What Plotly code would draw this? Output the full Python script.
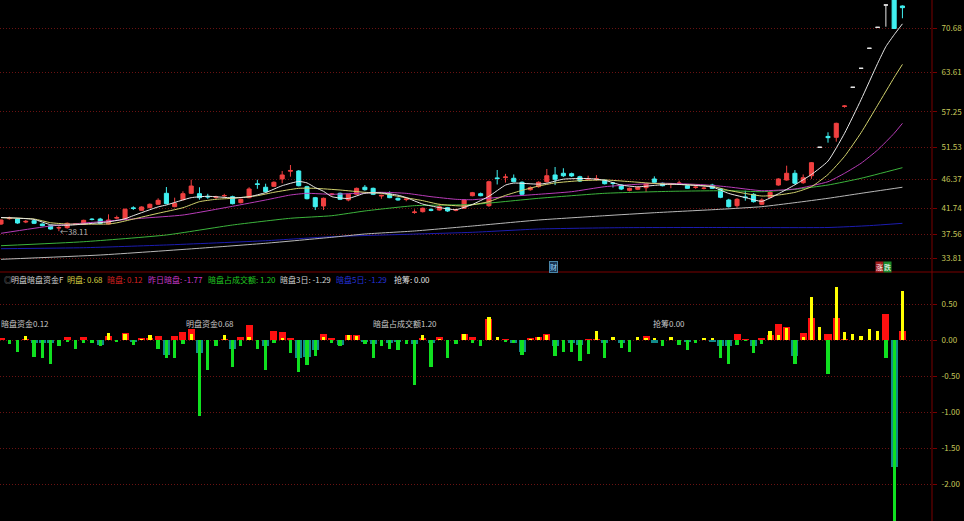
import plotly.graph_objects as go

W, H = 964, 521
PLOT_R = 932          # 右侧价格轴竖线位置
STEP = 8.27           # 每根K线的像素间距

FONT = "Noto Sans CJK SC, Noto Sans, sans-serif"
RED = "#f04040"
CYAN = "#40f0f0"
AXIS_RED = "#7a0000"
GRID = "#6a1212"
TICK_TXT = "#c8c85a"

# ---------------- 主图 K线 ----------------
opens = [39.26, 40.12, 40.06, 39.58, 39.79, 39.26, 38.99, 38.62, 38.67, 39.20,
         39.21, 40.05, 40.06, 39.26, 40.20, 40.06, 41.85, 41.46, 41.87, 42.42,
         44.18, 42.04, 43.16, 44.18, 44.12, 43.70, 43.50, 43.78, 43.64, 42.68,
         43.48, 45.70, 45.15, 45.30, 46.48, 47.72, 47.76, 45.24, 43.48, 42.15,
         43.98, 44.18, 43.11, 44.02, 45.15, 44.98, 43.75, 44.02, 43.38, 43.18,
         41.10, 41.24, 41.56, 41.50, 41.88, 41.48, 41.78, 43.80, 44.12, 42.20,
         46.65, 46.70, 46.59, 45.95, 44.76, 45.24, 46.04, 47.12, 47.39, 47.33,
         46.84, 46.44, 46.45, 46.27, 45.85, 45.51, 44.66, 44.82, 45.08, 46.48,
         45.79, 45.60, 45.76, 45.40, 45.13, 44.96, 45.51, 44.87, 43.11, 42.20,
         43.60, 44.02, 42.42, 43.54, 45.51, 46.31, 47.39, 45.88, 47.00, 51.56,
         53.30, 53.16, 58.10, 61.18, 64.22, 67.43, 70.79, 74.37, 77.97, 74.21]
highs = [40.00, 40.45, 40.20, 39.90, 39.95, 39.35, 39.10, 38.90, 39.50, 39.40,
         39.95, 40.20, 40.25, 40.81, 40.60, 41.75, 42.10, 42.10, 42.55, 43.38,
         45.19, 43.48, 44.50, 46.37, 45.15, 44.10, 43.80, 44.10, 43.80, 43.35,
         45.15, 46.35, 45.72, 46.10, 47.76, 48.72, 47.90, 45.40, 43.60, 43.50,
         44.20, 44.30, 44.10, 45.10, 45.50, 45.10, 43.95, 44.50, 43.50, 43.40,
         41.60, 41.90, 41.80, 42.50, 42.00, 41.70, 43.20, 44.40, 44.30, 46.20,
         47.92, 47.30, 47.20, 46.10, 45.30, 46.10, 48.08, 48.40, 48.20, 47.50,
         47.00, 47.00, 47.10, 46.40, 46.00, 45.60, 45.10, 45.30, 45.80, 46.90,
         45.90, 45.80, 46.20, 45.50, 45.40, 45.20, 45.70, 45.00, 43.30, 43.40,
         44.60, 44.20, 43.38, 44.50, 46.60, 48.61, 47.90, 47.20, 49.20, 51.56,
         53.96, 55.50, 58.30, 61.18, 64.22, 67.43, 70.79, 74.37, 77.97, 74.30]
lows = [39.10, 39.95, 39.30, 39.40, 39.25, 38.90, 38.35, 38.11, 38.50, 39.10,
        39.10, 39.85, 39.30, 39.20, 40.00, 39.95, 41.50, 41.40, 41.80, 42.35,
        42.45, 41.95, 43.05, 44.10, 43.16, 43.30, 43.30, 43.60, 42.40, 42.55,
        43.40, 44.90, 44.30, 45.20, 45.79, 46.85, 45.30, 43.20, 41.50, 41.50,
        43.80, 43.10, 42.90, 43.90, 44.60, 43.90, 43.30, 43.40, 43.00, 42.90,
        40.90, 41.10, 41.30, 41.40, 41.20, 41.30, 41.70, 43.70, 43.70, 42.00,
        45.60, 45.90, 45.95, 43.90, 44.60, 45.10, 45.90, 45.50, 46.80, 46.80,
        46.00, 46.20, 46.20, 45.60, 45.10, 44.70, 44.50, 44.70, 44.40, 45.80,
        45.30, 45.00, 45.60, 44.90, 44.90, 44.80, 44.90, 43.40, 41.90, 41.87,
        43.00, 42.70, 42.30, 43.40, 45.40, 46.20, 45.60, 45.70, 46.50, 51.56,
        52.30, 52.46, 57.90, 61.18, 64.22, 67.43, 70.79, 70.89, 70.55, 72.24]
closes = [39.90, 40.20, 39.42, 39.68, 39.37, 38.99, 38.46, 38.68, 39.37, 39.25,
          39.85, 39.98, 39.37, 39.90, 40.30, 41.62, 41.75, 41.99, 42.42, 43.06,
          42.52, 42.58, 44.12, 45.35, 43.48, 43.60, 43.58, 43.82, 42.52, 43.22,
          44.87, 45.60, 44.44, 45.95, 47.12, 47.84, 45.40, 43.32, 42.04, 43.38,
          44.06, 43.22, 44.02, 44.98, 44.76, 44.02, 43.85, 43.48, 43.11, 43.26,
          41.18, 41.78, 41.46, 42.04, 41.35, 41.52, 43.11, 44.28, 43.80, 46.04,
          46.55, 46.80, 46.04, 44.02, 45.08, 45.95, 47.00, 46.43, 47.00, 46.96,
          46.15, 46.52, 46.50, 45.72, 45.75, 44.87, 44.98, 45.15, 45.67, 45.95,
          45.40, 45.66, 45.82, 44.98, 45.17, 45.00, 44.98, 43.54, 42.04, 43.22,
          43.50, 42.84, 43.11, 44.34, 46.48, 47.39, 45.79, 46.68, 49.09, 51.56,
          53.10, 55.40, 58.18, 61.18, 64.22, 67.43, 70.79, 74.37, 70.60, 73.94]

# ---------------- 均线 (按K线序号取样) ----------------
ma5_x = [0, 2, 4, 6, 8, 10, 13, 15, 16, 19, 20, 23, 25, 28, 30, 32, 34, 36, 37, 38,
         39, 40, 42, 44, 46, 48, 49, 51, 53, 55, 57, 59, 61, 62, 65, 66, 68, 71, 73, 75,
         77, 79, 81, 83, 85, 86, 88, 90, 92, 94, 96, 98, 100, 102, 104, 106, 107, 108, 109]
ma5 = [40.30, 40.20, 40.00, 39.15, 39.05, 39.25, 39.60, 40.10, 40.60, 42.00,
       42.31, 43.48, 43.70, 43.45, 43.62, 44.30, 45.40, 46.08, 45.85, 45.10,
       44.50, 43.64, 43.36, 44.19, 44.25, 43.88, 43.50, 42.45, 41.90, 41.56,
       42.40, 43.70, 45.50, 45.82, 45.65, 45.80, 46.45, 46.55, 46.27, 45.50,
       45.22, 45.45, 45.65, 45.53, 45.34, 45.21, 44.16, 43.50, 42.90, 44.10,
       45.55, 47.20, 49.35, 53.80, 59.20, 65.00, 67.70, 69.60, 71.35]
ma10_x = [0, 4, 6, 8, 13, 14, 16, 19, 22, 24, 26, 28, 31, 33, 36, 38, 41, 44, 46, 48,
          51, 53, 56, 59, 61, 63, 65, 67, 70, 73, 76, 79, 83, 86, 88, 92, 94, 96, 98, 100,
          102, 104, 106, 108, 109]
ma10 = [40.27, 40.06, 39.47, 39.26, 39.26, 39.45, 40.05, 40.98, 41.87, 42.84,
        43.22, 43.38, 43.80, 44.34, 44.98, 44.98, 44.71, 44.34, 44.18, 43.70,
        43.00, 42.42, 42.15, 42.85, 43.85, 44.65, 45.35, 45.85, 46.20, 46.32,
        46.06, 45.76, 45.55, 45.30, 44.65, 43.75, 43.91, 44.33, 45.24, 47.20,
        50.10, 53.90, 58.30, 62.75, 64.85]
ma20_x = [0, 6, 12, 17, 22, 28, 32, 35, 37, 40, 46, 49, 52, 55, 57, 61, 65, 69, 73, 77,
          80, 85, 88, 92, 96, 100, 102, 104, 106, 108, 109]
ma20 = [37.77, 38.94, 39.63, 40.18, 40.70, 42.10, 43.11, 43.91, 44.18, 44.02,
        44.34, 44.18, 43.64, 43.22, 43.15, 43.64, 44.02, 44.44, 45.24, 45.63,
        45.80, 45.55, 45.20, 44.60, 44.87, 46.04, 47.39, 49.00, 51.12, 53.80, 55.40]
ma30_x = [0, 10, 20, 28, 35, 40, 44, 50, 57, 65, 73, 81, 88, 92, 96, 100, 104, 109]
ma30 = [35.78, 36.42, 37.50, 39.10, 40.18, 40.59, 41.35, 42.20, 42.39, 43.38,
        44.18, 44.50, 44.60, 44.44, 44.82, 45.51, 46.59, 48.29]
ma60_x = [0, 12, 24, 32, 40, 44, 50, 57, 65, 73, 79, 87, 92, 96, 100, 104, 109]
ma60 = [33.60, 34.29, 35.37, 36.17, 37.13, 37.66, 38.14, 38.94, 39.90, 40.59,
        41.07, 41.62, 42.04, 42.68, 43.38, 44.18, 45.15]
ma120_x = [0, 10, 20, 32, 40, 57, 65, 75, 86, 100, 105, 109]
ma120 = [35.30, 35.46, 35.90, 36.58, 37.23, 37.93, 38.46, 38.67, 38.70, 38.70, 39.00, 39.37]

price_ticks = [33.81, 37.56, 41.74, 46.37, 51.53, 57.25, 63.61, 70.68]

# ---------------- 副图 明盘暗盘资金F ----------------
an_pan = [0.02, 0, 0, 0.01, -0.04, -0.04, -0.04, 0, 0.04, 0,
          0.04, 0, -0.07, 0.06, 0, 0.10, -0.03, 0.02, 0.02, 0.055,
          -0.21, 0.055, 0.115, 0.15, -0.18, 0, 0, 0.01, -0.12, 0.04,
          0.21, 0, -0.09, 0.125, 0.105, 0.02, -0.25, -0.23, -0.14, 0.09,
          0.02, -0.07, 0.07, 0.07, -0.02, -0.05, 0, -0.04, -0.03, 0,
          -0.055, 0.03, -0.04, 0.045, 0, 0, 0.085, 0.04, 0, 0.29,
          0, 0.01, -0.045, -0.16, 0.015, 0.04, 0.09, -0.08, 0, -0.04,
          -0.07, 0.01, 0.01, -0.04, 0, -0.045, 0, 0, 0.055, -0.04,
          0, 0, 0, -0.03, 0, 0, -0.02, -0.09, -0.09, 0.085,
          0.01, -0.08, 0.03, 0.07, 0.22, 0.175, -0.22, 0.10, 0.31, 0,
          0.085, 0.31, 0.01, 0, 0, 0, 0, 0.36, -1.77, 0.12]
ming_pan = [0, -0.05, -0.17, 0.06, -0.23, -0.25, -0.34, -0.09, -0.03, -0.12,
            -0.04, -0.04, -0.09, 0.10, -0.02, 0.09, -0.07, 0.01, 0.065, -0.13,
            -0.245, -0.245, -0.05, 0.08, -1.06, -0.42, -0.08, 0.065, -0.37, -0.09,
            0.04, -0.125, -0.42, -0.04, 0.03, -0.18, -0.44, -0.35, -0.22, 0.045,
            -0.04, -0.09, 0.065, 0.06, -0.055, -0.25, -0.09, -0.13, -0.14, -0.05,
            -0.63, 0.065, -0.37, 0.01, -0.25, -0.055, 0.085, -0.045, -0.09, 0.315,
            0.04, -0.02, -0.04, -0.21, 0.01, 0.04, 0.065, -0.22, -0.16, -0.16,
            -0.29, -0.19, 0.13, -0.25, 0.04, -0.115, -0.17, 0.04, 0.015, 0.015,
            -0.08, 0.045, -0.07, -0.14, -0.045, 0.025, 0.015, -0.245, -0.33, -0.07,
            -0.01, -0.185, -0.055, 0.125, 0.07, 0.16, -0.33, 0.04, 0.60, 0.185,
            -0.47, 0.74, 0.115, 0.09, 0.06, 0.15, 0.13, -0.245, -2.9, 0.68]
flow_ticks = [0.5, 0.0, -0.5, -1.0, -1.5, -2.0]

legend_items = [
    (2, "◎", "#8a8a8a"),
    (9, "明盘暗盘资金F", "#d0d0d0"),
    (65, "明盘: 0.68", "#d8d040"),
    (105, "暗盘: 0.12", "#d82020"),
    (146, "昨日暗盘: -1.77", "#c838c8"),
    (206, "暗盘占成交额: 1.20", "#20c820"),
    (278, "暗盘3日: -1.29", "#d0d0d0"),
    (334, "暗盘5日: -1.29", "#2430d8"),
    (392, "抢筹: 0.00", "#e0e0e0"),
]
inner_labels = [(-1, "暗盘资金0.12"), (184, "明盘资金0.68"),
                (371, "暗盘占成交额1.20"), (651, "抢筹0.00")]


def px_x(px):
    return px / W


def px_y(py):
    return 1 - py / H


idx = list(range(len(closes)))


def pick(cond):
    sel = [i for i in idx if cond(opens[i], closes[i])]
    return dict(x=sel, open=[opens[i] for i in sel], high=[highs[i] for i in sel],
                low=[lows[i] for i in sel], close=[closes[i] for i in sel])


fig = go.Figure()

for cond, col in [(lambda o, c: c > o, RED), (lambda o, c: c < o, CYAN),
                  (lambda o, c: c == o, "#e8e8e8")]:
    d = pick(cond)
    fig.add_trace(go.Candlestick(
        **d, xaxis="x", yaxis="y", whiskerwidth=0,
        increasing=dict(line=dict(color=col, width=1), fillcolor=col),
        decreasing=dict(line=dict(color=col, width=1), fillcolor=col),
        hoverinfo="skip", showlegend=False))

ma_lines = [
    (ma120_x, ma120, "#1c1cb0"),
    (ma60_x, ma60, "#b8b8b8"),
    (ma30_x, ma30, "#3cb43c"),
    (ma20_x, ma20, "#b83cb8"),
    (ma10_x, ma10, "#d2d26e"),
    (ma5_x, ma5, "#e8e8e8"),
]
for xs, ys, col in ma_lines:
    fig.add_trace(go.Scatter(x=xs, y=ys, mode="lines", xaxis="x", yaxis="y",
                             line=dict(color=col, width=1, shape="spline", smoothing=0.5),
                             hoverinfo="skip", showlegend=False))

fig.add_trace(go.Bar(
    x=idx, y=an_pan, width=0.85, xaxis="x2", yaxis="y2",
    marker=dict(color=["#ff1010" if v > 0 else "#128a8a" for v in an_pan], line=dict(width=0)),
    hoverinfo="skip", showlegend=False))
fig.add_trace(go.Bar(
    x=idx, y=ming_pan, width=0.4, xaxis="x2", yaxis="y2",
    marker=dict(color=["#ffff00" if v > 0 else "#10e020" for v in ming_pan], line=dict(width=0)),
    hoverinfo="skip", showlegend=False))

x0 = -1 / STEP
x1 = x0 + PLOT_R / STEP
top_lo = 75.17 - 268 / 6.238
bot_top_px = 281

axis_style = dict(showgrid=True, gridcolor=GRID, griddash="1px,2px", gridwidth=1,
                  zeroline=False, ticks="outside", ticklen=4, tickcolor=AXIS_RED,
                  ticklabelstandoff=3,
                  tickfont=dict(size=8, color=TICK_TXT, family=FONT))

fig.update_layout(
    width=W, height=H,
    margin=dict(l=0, r=0, t=0, b=0),
    paper_bgcolor="#000000", plot_bgcolor="#000000",
    barmode="overlay", bargap=0,
    font=dict(family=FONT, size=8, color="#d0d0d0"),
    xaxis=dict(domain=[0, PLOT_R / W], range=[x0, x1], visible=False,
               rangeslider=dict(visible=False), anchor="y"),
    xaxis2=dict(domain=[0, PLOT_R / W], range=[x0, x1], visible=False,
                matches="x", anchor="y2"),
    yaxis=dict(domain=[1 - 268 / H, 1], range=[top_lo, 75.17], side="right", anchor="x",
               tickvals=price_ticks, ticktext=["%.2f" % v for v in price_ticks],
               **axis_style),
    yaxis2=dict(domain=[0, (H - bot_top_px) / H],
                range=[-(H - 340) / 72, (340 - bot_top_px) / 72],
                side="right", anchor="x2",
                tickvals=flow_ticks, ticktext=["%.2f" % v for v in flow_ticks],
                **axis_style),
)

# 轴线与分隔线
fig.add_shape(type="line", xref="paper", yref="paper", x0=px_x(PLOT_R), x1=px_x(PLOT_R),
              y0=0, y1=1, line=dict(color=AXIS_RED, width=1))
fig.add_shape(type="line", xref="paper", yref="paper", x0=0, x1=1,
              y0=px_y(272), y1=px_y(272), line=dict(color=AXIS_RED, width=1))

# 最低价标注
fig.add_annotation(x=7, y=38.11, xref="x", yref="y", text="←38.11", showarrow=False,
                   xanchor="left", yanchor="middle", xshift=-1,
                   font=dict(size=8, color="#b4b4b4", family=FONT))

# 财 / 涨跌 标记
fig.add_annotation(x=px_x(553), y=px_y(267), xref="paper", yref="paper", text="财",
                   showarrow=False, font=dict(size=7, color="#9fdcff", family=FONT),
                   bgcolor="#163250", bordercolor="#4a86a8", borderwidth=1, borderpad=0)
fig.add_annotation(x=px_x(884), y=px_y(267), xref="paper", yref="paper", text="涨",
                   showarrow=False, font=dict(size=7, color="#ffffff", family=FONT),
                   bgcolor="#a01c1c", borderpad=0)
fig.add_annotation(x=px_x(892), y=px_y(267), xref="paper", yref="paper", text="跌",
                   showarrow=False, font=dict(size=7, color="#ffffff", family=FONT),
                   bgcolor="#1c8a2a", borderpad=0)

# 副图标题行
for px, txt, col in legend_items:
    fig.add_annotation(x=px_x(px), y=px_y(279), xref="paper", yref="paper", text=txt,
                       showarrow=False, xanchor="left", yanchor="middle",
                       font=dict(size=8, color=col, family=FONT))

for px, txt in inner_labels:
    fig.add_annotation(x=px_x(px), y=px_y(323), xref="paper", yref="paper", text=txt,
                       showarrow=False, xanchor="left", yanchor="middle",
                       font=dict(size=8, color="#c8c8c8", family=FONT))

# 去掉页面默认边距, 让图从左上角开始
fig.write_html("out.html", config={"displayModeBar": False},
               post_script="document.body.style.margin='0';document.body.style.overflow='hidden';")
